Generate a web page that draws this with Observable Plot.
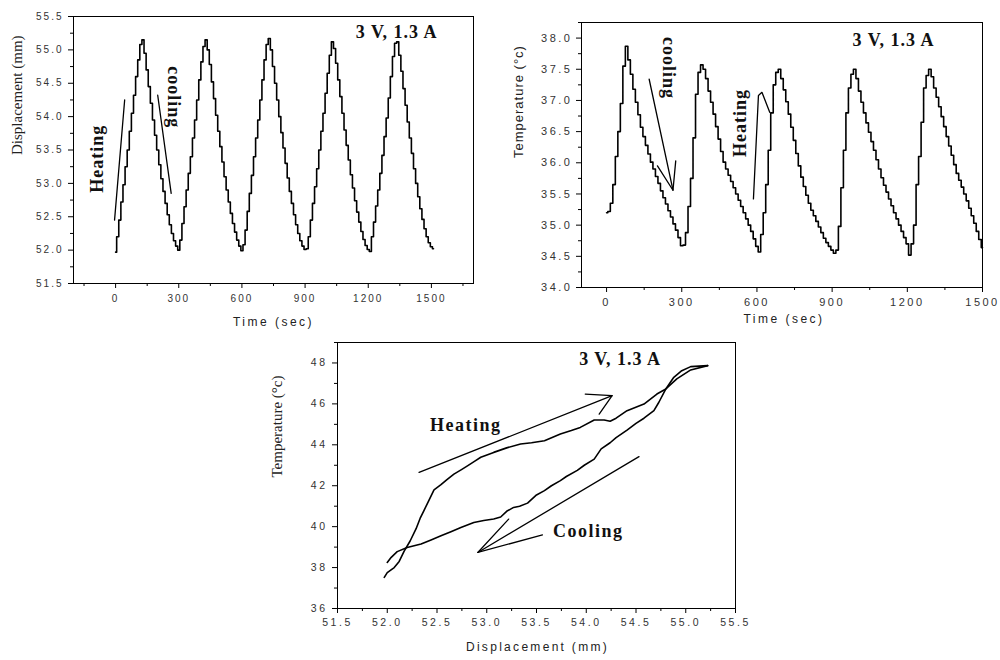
<!DOCTYPE html>
<html><head><meta charset="utf-8">
<script src="https://cdn.jsdelivr.net/npm/d3@7"></script>
<script src="https://cdn.jsdelivr.net/npm/@observablehq/plot@0.6"></script>
<style>
body{margin:0;background:#fff;}
#wrap{position:relative;width:1000px;height:660px;overflow:hidden;background:#fff;}
.panel{position:absolute;}
</style></head><body><div id="wrap"></div>
<script>
// ---------------- DATA ----------------
// Panel A: displacement (mm) vs time (s), sampled every 10 s from t = 0
const sampleStep = 10;
const displacement = [
  51.97,52.2,52.45,52.72,52.98,53.25,53.5,53.78,54.05,54.32,54.6,54.85,55.08,55.15,54.95,54.7,54.45,54.2,53.95,53.72,53.5,53.28,53.07,52.88,52.7,52.53,52.38,52.25,52.14,52.06,52.0,
  52.15,52.4,52.65,52.9,53.15,53.4,53.68,53.95,54.25,54.55,54.82,55.05,55.15,55.0,54.78,54.52,54.27,54.02,53.78,53.55,53.32,53.1,52.9,52.72,52.55,52.4,52.27,52.15,52.06,51.99,
  52.08,52.3,52.58,52.85,53.12,53.4,53.68,53.95,54.25,54.55,54.85,55.08,55.17,55.0,54.75,54.5,54.25,54.0,53.76,53.53,53.3,53.08,52.88,52.7,52.53,52.38,52.25,52.14,52.06,52.01,52.02,
  52.2,52.45,52.7,52.95,53.22,53.5,53.78,54.05,54.35,54.65,54.92,55.12,55.02,54.8,54.55,54.3,54.05,53.8,53.57,53.35,53.13,52.93,52.74,52.57,52.42,52.28,52.16,52.07,52.01,51.98,
  52.2,52.42,52.66,52.9,53.15,53.42,53.7,53.98,54.28,54.6,54.9,55.1,55.12,54.92,54.68,54.42,54.17,53.92,53.68,53.45,53.22,53.0,52.8,52.62,52.46,52.32,52.2,52.11,52.05,52.02
];
// Panel B: temperature (°C) vs time (s), sampled every 10 s from t = 0
const temperature = [
  35.2,35.22,35.35,35.65,36.1,36.5,36.95,37.55,37.87,37.65,37.42,37.18,36.97,36.77,36.57,36.42,36.28,36.14,36.01,35.9,35.78,35.67,35.55,35.44,35.34,35.23,35.13,35.02,34.92,34.8,34.67,
  34.68,34.88,35.3,35.75,36.4,37.1,37.45,37.57,37.5,37.35,37.15,36.97,36.78,36.58,36.38,36.18,36.01,35.9,35.8,35.7,35.6,35.5,35.4,35.3,35.2,35.1,35.0,34.9,34.78,34.66,34.57,
  34.85,35.2,35.65,36.2,36.8,37.25,37.45,37.5,37.35,37.17,36.98,36.78,36.57,36.36,36.15,35.95,35.77,35.62,35.48,35.35,35.24,35.15,35.06,34.97,34.88,34.79,34.72,34.66,34.6,34.55,
  34.6,34.98,35.6,36.2,36.8,37.2,37.42,37.5,37.35,37.15,36.97,36.8,36.64,36.49,36.34,36.2,36.05,35.9,35.76,35.64,35.53,35.42,35.31,35.2,35.1,35.0,34.9,34.8,34.7,34.52,
  34.7,35.0,35.65,36.1,36.65,37.2,37.4,37.5,37.38,37.2,37.05,36.9,36.74,36.58,36.42,36.27,36.12,35.97,35.83,35.72,35.61,35.5,35.39,35.27,35.15,35.03,34.9,34.77,34.64
];
// Panel C: temperature vs displacement hysteresis
const heatingDisp = [51.97,52.0,52.07,52.12,52.17,52.23,52.29,52.33,52.37,52.42,52.47,52.54,52.6,52.67,52.75,52.81,52.88,52.94,53.07,53.2,53.34,53.45,53.58,53.74,53.85,53.94,54.08,54.18,54.24,54.3,54.41,54.58,54.71,54.8,54.91,55.05,55.22];
const heatingTemp = [37.52,37.75,38.0,38.3,38.8,39.3,39.9,40.4,40.8,41.3,41.8,42.05,42.3,42.57,42.8,42.98,43.2,43.39,43.63,43.85,44.04,44.1,44.2,44.53,44.7,44.85,45.21,45.21,45.15,45.3,45.67,45.99,46.48,46.73,47.22,47.66,47.87];
const coolingDisp = [55.22,55.05,54.96,54.88,54.8,54.73,54.68,54.58,54.5,54.41,54.3,54.24,54.15,54.08,53.98,53.91,53.8,53.74,53.65,53.58,53.5,53.41,53.33,53.27,53.2,53.14,53.07,52.97,52.87,52.74,52.64,52.54,52.44,52.34,52.2,52.1,52.04,52.0];
const coolingTemp = [47.87,47.82,47.62,47.3,46.73,46.08,45.67,45.3,45.05,44.72,44.35,44.1,43.8,43.3,43.0,42.75,42.45,42.25,42.0,41.76,41.55,41.15,41.0,40.94,40.75,40.47,40.37,40.3,40.2,39.96,39.75,39.55,39.35,39.15,38.98,38.78,38.5,38.25];

// tick labels
const timeTicksA = [0,300,600,900,1200,1500];
const timeMinorA = [-150,150,450,750,1050,1350,1650];
const dispTicks = [51.5,52.0,52.5,53.0,53.5,54.0,54.5,55.0,55.5];
const dispMinor = [51.75,52.25,52.75,53.25,53.75,54.25,54.75,55.25];
const timeTicksB = [0,300,600,900,1200,1500];
const timeMinorB = [150,450,750,1050,1350];
const tempTicksB = [34.0,34.5,35.0,35.5,36.0,36.5,37.0,37.5,38.0];
const tempMinorB = [34.25,34.75,35.25,35.75,36.25,36.75,37.25,37.75,38.25];
const dispTicksC = [51.5,52.0,52.5,53.0,53.5,54.0,54.5,55.0,55.5];
const dispMinorC = [51.75,52.25,52.75,53.25,53.75,54.25,54.75,55.25];
const tempTicksC = [36,38,40,42,44,46,48];
const tempMinorC = [37,39,41,43,45,47,49];

// annotations (data coordinates)
const condition = "3 V, 1.3 A";
const annoA = [
  {label:"Heating", x:-86, y:53.37, r:-90},
  {label:"cooling", x:275, y:54.29, r:90},
  {label:condition, x:1335, y:55.26, r:0}
];
const arrowsA = [
  [[-5,52.45],[43,54.25]],
  [[200,54.32],[264,52.85]]
];
const annoB = [
  {label:"cooling", x:249, y:37.52, r:90},
  {label:"Heating", x:535, y:36.64, r:-90},
  {label:condition, x:1145, y:37.96, r:0}
];
const arrowsB = [
  [[170,37.34],[265,35.56]],
  [[203,35.95],[265,35.56],[276,36.03]],
  [[586,35.42],[606,37.08],[620,37.13],[651,36.81]]
];
const annoC = [
  {label:"Heating", x:52.79, y:44.97, r:0},
  {label:"Cooling", x:54.02, y:39.8, r:0},
  {label:condition, x:54.34, y:48.2, r:0}
];
const arrowsC = [
  [[52.32,42.65],[54.26,46.4]],
  [[53.99,46.48],[54.26,46.4],[54.13,45.5]],
  [[54.53,43.42],[52.91,38.74]],
  [[53.22,40.37],[52.91,38.74],[53.56,39.6]]
];

// ---------------- RENDER ----------------
const serif = "'Liberation Serif','Times New Roman',serif";
const sans = "'Liberation Sans',Arial,sans-serif";
const wrap = document.getElementById("wrap");

function place(svg, left, top, spacing) {
  const div = document.createElement("div");
  div.className = "panel";
  div.style.left = left + "px";
  div.style.top = top + "px";
  div.appendChild(svg);
  wrap.appendChild(div);
  d3.select(svg).selectAll('g[aria-label$="tick label"]').attr("letter-spacing", spacing.ticks);
  d3.select(svg).selectAll("text").each(function() {
    const t = this.textContent;
    if (spacing.text && spacing.text[t] != null) this.setAttribute("letter-spacing", spacing.text[t]);
  });
}

function axes(xT, xM, yT, yM, xf, yf, fs, pad) {
  return [
    Plot.axisX({ticks: xT, tickSize: 5, tickPadding: pad.x, tickFormat: xf, fontSize: fs, fontFamily: sans, fill: "#333", stroke: "black", label: null}),
    Plot.axisX({ticks: xM, tickSize: 3, tickFormat: () => "", stroke: "black", label: null}),
    Plot.axisY({ticks: yT, tickSize: 5, tickPadding: pad.y, tickFormat: yf, fontSize: fs, fontFamily: sans, fill: "#333", stroke: "black", label: null}),
    Plot.axisY({ticks: yM, tickSize: 3, tickFormat: () => "", stroke: "black", label: null}),
    Plot.frame({stroke: "black", strokeWidth: 1})
  ];
}

function annoMarks(anno, arrows, fs) {
  return [
    ...arrows.map(a => Plot.line(a, {stroke: "black", strokeWidth: 1.3})),
    Plot.text(anno, {x: "x", y: "y", text: "label", rotate: "r", fontFamily: serif, fontWeight: "bold", fontSize: fs, fill: "#111"})
  ];
}

// Panel A
const svgA = Plot.plot({
  width: 500, height: 330,
  marginLeft: 73, marginRight: 27, marginTop: 16, marginBottom: 47,
  x: {domain: [-200, 1700]}, y: {domain: [51.5, 55.5]},
  style: {background: "transparent", overflow: "visible"},
  marks: [
    ...axes(timeTicksA, timeMinorA, dispTicks, dispMinor, d3.format("d"), d3.format(".1f"), 10, {x: 6, y: 5}),
    Plot.line(displacement, {x: (d, i) => i * sampleStep, y: d => d, curve: "step", stroke: "black", strokeWidth: 1.6}),
    ...annoMarks(annoA, arrowsA, 18),
    Plot.text(["Displacement (mm)"], {frameAnchor: "left", rotate: -90, dx: -56, dy: 5, fontFamily: serif, fontSize: 15, fill: "#222"}),
    Plot.text(["Time (sec)"], {frameAnchor: "bottom", dy: 42, fontFamily: sans, fontSize: 12, fill: "#222"})
  ]
});
place(svgA, 0, 0, {ticks: 2, text: {"Time (sec)": 2.5, [condition]: 1, "Heating": 1, "cooling": 1}});

// Panel B
const svgB = Plot.plot({
  width: 500, height: 330,
  marginLeft: 81, marginRight: 18, marginTop: 22, marginBottom: 43,
  x: {domain: [-100, 1500]}, y: {domain: [34, 38.25]},
  style: {background: "transparent", overflow: "visible"},
  marks: [
    ...axes(timeTicksB, timeMinorB, tempTicksB, tempMinorB, d3.format("d"), d3.format(".1f"), 11, {x: 6, y: 4}),
    Plot.line(temperature, {x: (d, i) => i * sampleStep, y: d => d, curve: "step", stroke: "black", strokeWidth: 1.6}),
    ...annoMarks(annoB, arrowsB, 18),
    Plot.text(["Temperature (°c)"], {frameAnchor: "left", rotate: -90, dx: -63, dy: 3, fontFamily: sans, fontSize: 13, fill: "#222"}),
    Plot.text(["Time (sec)"], {frameAnchor: "bottom", dy: 35, dx: 2, fontFamily: sans, fontSize: 12, fill: "#222"})
  ]
});
place(svgB, 500, 0, {ticks: 2.5, text: {"Time (sec)": 2.5, "Temperature (°c)": 1, [condition]: 1, "Heating": 1, "cooling": 1}});

// Panel C
const heatingPts = heatingDisp.map((d, i) => [d, heatingTemp[i]]);
const coolingPts = coolingDisp.map((d, i) => [d, coolingTemp[i]]);
const svgC = Plot.plot({
  width: 500, height: 330,
  marginLeft: 77, marginRight: 25, marginTop: 12, marginBottom: 52,
  x: {domain: [51.5, 55.5]}, y: {domain: [36, 49]},
  style: {background: "transparent", overflow: "visible"},
  marks: [
    ...axes(dispTicksC, dispMinorC, tempTicksC, tempMinorC, d3.format(".1f"), d3.format("d"), 10.5, {x: 5, y: 5}),
    Plot.line(heatingPts, {stroke: "black", strokeWidth: 1.6}),
    Plot.line(coolingPts, {stroke: "black", strokeWidth: 1.6}),
    ...annoMarks(annoC, arrowsC, 18),
    Plot.text(["Temperature (°c)"], {frameAnchor: "left", rotate: -90, dx: -60, dy: 2, fontFamily: serif, fontSize: 15, fill: "#222"}),
    Plot.text(["Displacement (mm)"], {frameAnchor: "bottom", dy: 42, dx: 1, fontFamily: sans, fontSize: 12, fill: "#222"})
  ]
});
place(svgC, 260, 330, {ticks: 2.5, text: {"Displacement (mm)": 2.3, [condition]: 1, "Heating": 1.5, "Cooling": 1.5}});
</script></body></html>
